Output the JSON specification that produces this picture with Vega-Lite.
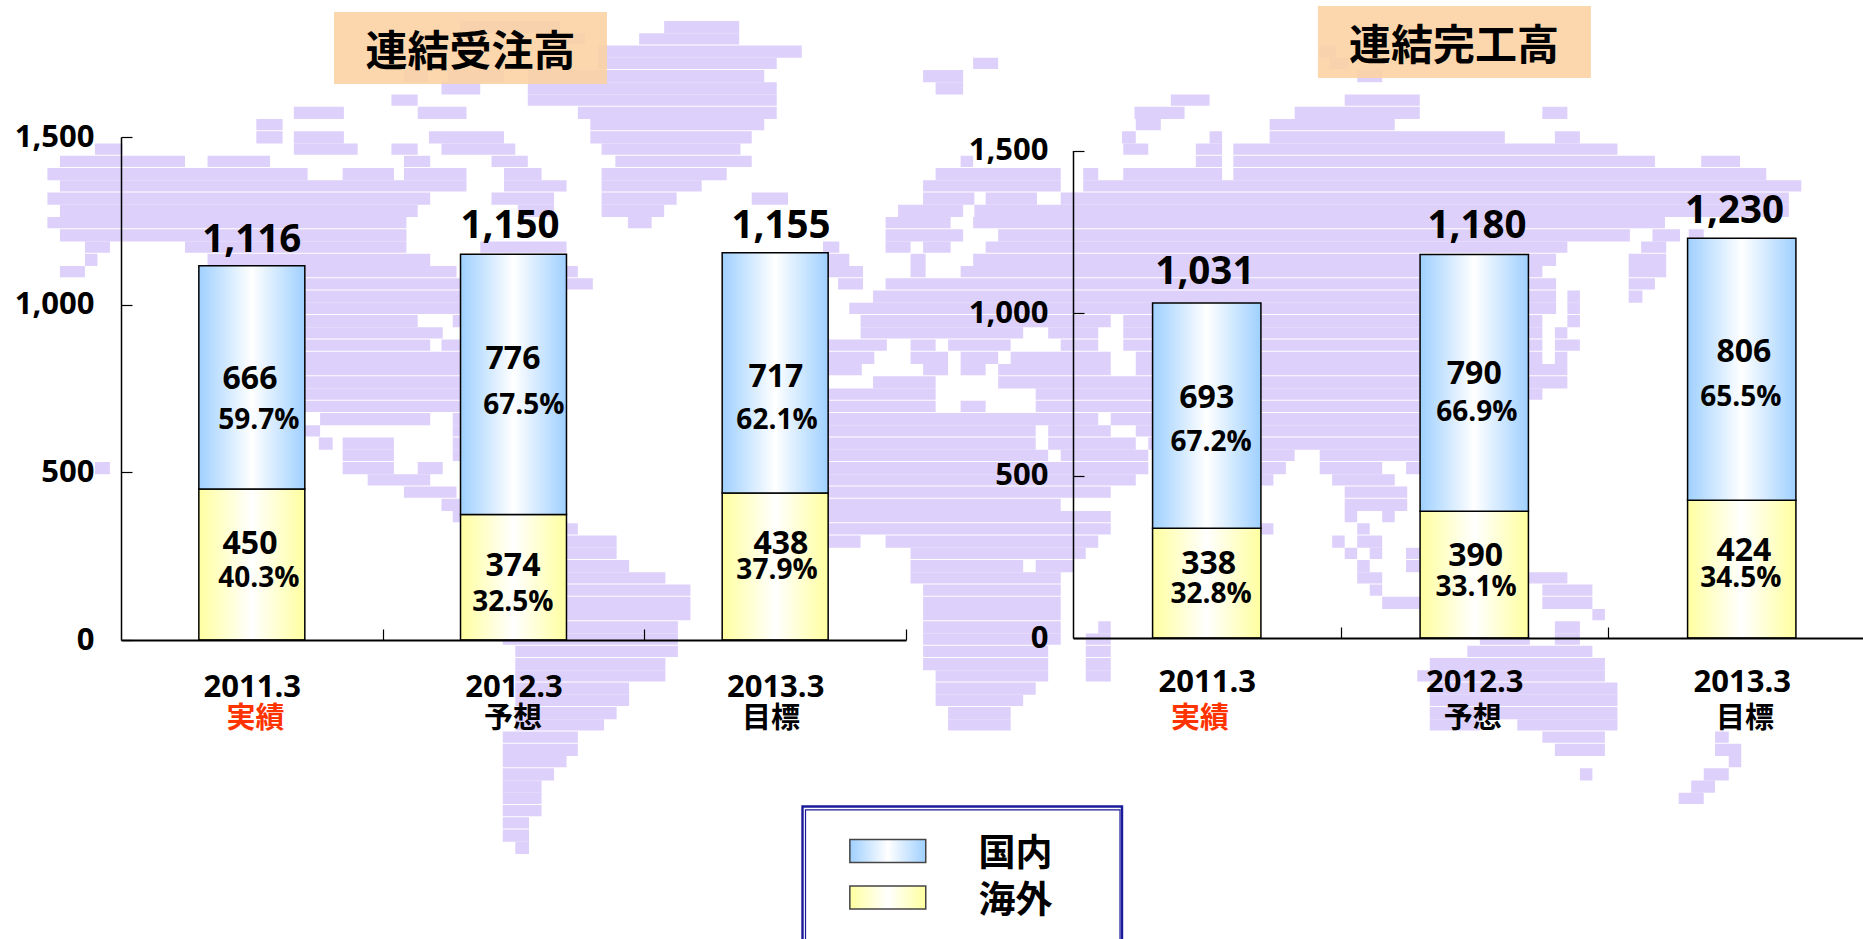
{"$schema":"https://vega.github.io/schema/vega-lite/v6.json","width":1863,"height":939,"padding":0,"autosize":"none","background":"white",
"datasets":{
"bars":[
{"panel":"受注","period":"2011.3","series":"海外","seq":1,"value":450},{"panel":"受注","period":"2011.3","series":"国内","seq":2,"value":666},
{"panel":"受注","period":"2012.3","series":"海外","seq":1,"value":374},{"panel":"受注","period":"2012.3","series":"国内","seq":2,"value":776},
{"panel":"受注","period":"2013.3","series":"海外","seq":1,"value":438},{"panel":"受注","period":"2013.3","series":"国内","seq":2,"value":717},
{"panel":"完工","period":"2011.3","series":"海外","seq":1,"value":338},{"panel":"完工","period":"2011.3","series":"国内","seq":2,"value":693},
{"panel":"完工","period":"2012.3","series":"海外","seq":1,"value":390},{"panel":"完工","period":"2012.3","series":"国内","seq":2,"value":790},
{"panel":"完工","period":"2013.3","series":"海外","seq":1,"value":424},{"panel":"完工","period":"2013.3","series":"国内","seq":2,"value":806}],
"labels":[
{"panel":"受注","kind":"total","text":"1,116","slot":0.5,"at":1196},{"panel":"受注","kind":"total","text":"1,150","slot":1.487,"at":1240},{"panel":"受注","kind":"total","text":"1,155","slot":2.522,"at":1240},
{"panel":"受注","kind":"value","text":"666","slot":0.493,"at":784},{"panel":"受注","kind":"value","text":"776","slot":1.498,"at":841},{"panel":"受注","kind":"value","text":"717","slot":2.503,"at":790},
{"panel":"受注","kind":"pct","text":"59.7%","slot":0.527,"at":659},{"panel":"受注","kind":"pct","text":"67.5%","slot":1.54,"at":703},{"panel":"受注","kind":"pct","text":"62.1%","slot":2.507,"at":659},
{"panel":"受注","kind":"value","text":"450","slot":0.493,"at":292},{"panel":"受注","kind":"value","text":"374","slot":1.498,"at":226},{"panel":"受注","kind":"value","text":"438","slot":2.522,"at":292},
{"panel":"受注","kind":"pct","text":"40.3%","slot":0.527,"at":186},{"panel":"受注","kind":"pct","text":"32.5%","slot":1.498,"at":116},{"panel":"受注","kind":"pct","text":"37.9%","slot":2.507,"at":209},
{"panel":"受注","kind":"note","text":"実績","slot":0.514,"at":-230,"tone":"actual"},{"panel":"受注","kind":"note","text":"予想","slot":1.498,"at":-230,"tone":"plan"},{"panel":"受注","kind":"note","text":"目標","slot":2.484,"at":-230,"tone":"plan"},
{"panel":"完工","kind":"total","text":"1,031","slot":0.493,"at":1132},{"panel":"完工","kind":"total","text":"1,180","slot":1.51,"at":1273},{"panel":"完工","kind":"total","text":"1,230","slot":2.473,"at":1320},
{"panel":"完工","kind":"value","text":"693","slot":0.5,"at":744},{"panel":"完工","kind":"value","text":"790","slot":1.5,"at":818},{"panel":"完工","kind":"value","text":"806","slot":2.508,"at":886},
{"panel":"完工","kind":"pct","text":"67.2%","slot":0.516,"at":606},{"panel":"完工","kind":"pct","text":"66.9%","slot":1.51,"at":698},{"panel":"完工","kind":"pct","text":"65.5%","slot":2.497,"at":744},
{"panel":"完工","kind":"value","text":"338","slot":0.507,"at":231},{"panel":"完工","kind":"value","text":"390","slot":1.505,"at":258},{"panel":"完工","kind":"value","text":"424","slot":2.508,"at":271},
{"panel":"完工","kind":"pct","text":"32.8%","slot":0.516,"at":138},{"panel":"完工","kind":"pct","text":"33.1%","slot":1.507,"at":160},{"panel":"完工","kind":"pct","text":"34.5%","slot":2.497,"at":185},
{"panel":"完工","kind":"note","text":"実績","slot":0.475,"at":-243,"tone":"actual"},{"panel":"完工","kind":"note","text":"予想","slot":1.494,"at":-243,"tone":"plan"},{"panel":"完工","kind":"note","text":"目標","slot":2.512,"at":-243,"tone":"plan"}],
"heads":[{"text":"連結受注高","from":22.91,"to":44.73,"top":-0.735,"bottom":5.14,"cx":33.83,"cy":2.6},{"text":"連結完工高","from":101.56,"to":123.38,"top":-1.22,"bottom":4.65,"cx":112.44,"cy":2.15}],
"frame":[{"line":"inner","from":60.6,"to":85.74,"top":64.4,"bottom":80},{"line":"outer","from":60.36,"to":85.9,"top":64.12,"bottom":80}],
"map":[
{"row":0,"end":1,"from":33,"to":41},{"row":0,"end":1,"from":49.3,"to":55.3},
{"row":1,"end":1.92,"from":41,"to":43},{"row":1,"end":1.92,"from":47.3,"to":55.3},
{"row":2,"end":3,"from":44,"to":60.3},{"row":2,"end":3,"from":101.7,"to":103},
{"row":3,"end":3.92,"from":44,"to":58.3},{"row":3,"end":3.92,"from":74,"to":76},{"row":3,"end":3.92,"from":102.5,"to":104},
{"row":4,"end":5,"from":28.5,"to":30.4},{"row":4,"end":5,"from":32,"to":36.5},{"row":4,"end":5,"from":38.4,"to":57.3},{"row":4,"end":5,"from":70,"to":73.2},{"row":4,"end":5,"from":104.7,"to":106.7},
{"row":5,"end":6,"from":31.5,"to":34.6},{"row":5,"end":6,"from":38.4,"to":58.3},{"row":5,"end":6,"from":71,"to":73.2},
{"row":6,"end":6.92,"from":27.5,"to":29.6},{"row":6,"end":6.92,"from":38.4,"to":58.3},{"row":6,"end":6.92,"from":89.8,"to":92.9},{"row":6,"end":6.92,"from":103.7,"to":109.7},
{"row":7,"end":8,"from":19.7,"to":23.7},{"row":7,"end":8,"from":29.6,"to":33.5},{"row":7,"end":8,"from":42.4,"to":58.3},{"row":7,"end":8,"from":86.9,"to":90.9},{"row":7,"end":8,"from":99.7,"to":109.7},{"row":7,"end":8,"from":119.5,"to":121.5},
{"row":8,"end":8.92,"from":16.7,"to":18.8},{"row":8,"end":8.92,"from":43.4,"to":57.3},{"row":8,"end":8.92,"from":87,"to":89},{"row":8,"end":8.92,"from":97.7,"to":107.7},
{"row":9,"end":10,"from":16.7,"to":18.8},{"row":9,"end":10,"from":19.7,"to":23.7},{"row":9,"end":10,"from":30.5,"to":36.5},{"row":9,"end":10,"from":43.4,"to":56.3},{"row":9,"end":10,"from":85.9,"to":87},{"row":9,"end":10,"from":92.9,"to":93.9},{"row":9,"end":10,"from":97.7,"to":116.5},{"row":9,"end":10,"from":120.5,"to":122.5},
{"row":10,"end":10.92,"from":3.8,"to":6},{"row":10,"end":10.92,"from":19.7,"to":24.8},{"row":10,"end":10.92,"from":27.5,"to":29.6},{"row":10,"end":10.92,"from":31.5,"to":37.4},{"row":10,"end":10.92,"from":44.3,"to":55.4},{"row":10,"end":10.92,"from":86,"to":88},{"row":10,"end":10.92,"from":91.8,"to":93.9},{"row":10,"end":10.92,"from":94.8,"to":125.5},
{"row":11,"end":11.92,"from":1,"to":11},{"row":11,"end":11.92,"from":12.8,"to":17.8},{"row":11,"end":11.92,"from":28.5,"to":30.6},{"row":11,"end":11.92,"from":35.5,"to":38.4},{"row":11,"end":11.92,"from":45.4,"to":56.3},{"row":11,"end":11.92,"from":73,"to":74},{"row":11,"end":11.92,"from":91.8,"to":93.9},{"row":11,"end":11.92,"from":94.8,"to":128.5},{"row":11,"end":11.92,"from":132.2,"to":135.3},
{"row":12,"end":13,"from":0,"to":20.8},{"row":12,"end":13,"from":23.6,"to":27.7},{"row":12,"end":13,"from":28.5,"to":33.5},{"row":12,"end":13,"from":36.5,"to":39.5},{"row":12,"end":13,"from":44.3,"to":54.3},{"row":12,"end":13,"from":71,"to":81},{"row":12,"end":13,"from":82.8,"to":84},{"row":12,"end":13,"from":86,"to":93.9},{"row":12,"end":13,"from":94.8,"to":137.4},
{"row":13,"end":13.92,"from":1,"to":33.5},{"row":13,"end":13.92,"from":36.5,"to":41.5},{"row":13,"end":13.92,"from":44.3,"to":52.3},{"row":13,"end":13.92,"from":70,"to":81},{"row":13,"end":13.92,"from":82.8,"to":140.2},
{"row":14,"end":15,"from":0,"to":30.6},{"row":14,"end":15,"from":35.5,"to":40.5},{"row":14,"end":15,"from":44.3,"to":50.3},{"row":14,"end":15,"from":56.3,"to":59.2},{"row":14,"end":15,"from":70,"to":74.1},{"row":14,"end":15,"from":75,"to":79.1},{"row":14,"end":15,"from":81,"to":139.2},
{"row":15,"end":16,"from":1,"to":29.6},{"row":15,"end":16,"from":37.6,"to":40.5},{"row":15,"end":16,"from":44.3,"to":49.3},{"row":15,"end":16,"from":68,"to":73.2},{"row":15,"end":16,"from":74.1,"to":139.2},
{"row":16,"end":16.92,"from":0,"to":28.7},{"row":16,"end":16.92,"from":46.4,"to":48.3},{"row":16,"end":16.92,"from":67,"to":72.2},{"row":16,"end":16.92,"from":74,"to":129.3},
{"row":17,"end":18,"from":1,"to":28.7},{"row":17,"end":18,"from":67,"to":73.2},{"row":17,"end":18,"from":76,"to":126.5},{"row":17,"end":18,"from":128.3,"to":130.5},{"row":17,"end":18,"from":131.2,"to":132.4},
{"row":18,"end":18.92,"from":3,"to":5},{"row":18,"end":18.92,"from":11,"to":28.7},{"row":18,"end":18.92,"from":34.6,"to":41.5},{"row":18,"end":18.92,"from":62,"to":63.3},{"row":18,"end":18.92,"from":67,"to":69},{"row":18,"end":18.92,"from":70,"to":72.2},{"row":18,"end":18.92,"from":75,"to":121.5},{"row":18,"end":18.92,"from":127.4,"to":129.4},
{"row":19,"end":20,"from":3,"to":4},{"row":19,"end":20,"from":12.8,"to":30.6},{"row":19,"end":20,"from":62.4,"to":64.1},{"row":19,"end":20,"from":69,"to":70.2},{"row":19,"end":20,"from":74,"to":120.6},{"row":19,"end":20,"from":126.4,"to":129.4},
{"row":20,"end":20.92,"from":1,"to":3},{"row":20,"end":20.92,"from":20.6,"to":32.7},{"row":20,"end":20.92,"from":41.5,"to":42.4},{"row":20,"end":20.92,"from":62.4,"to":65.2},{"row":20,"end":20.92,"from":69,"to":70.2},{"row":20,"end":20.92,"from":73,"to":119.5},{"row":20,"end":20.92,"from":126.4,"to":129.4},
{"row":21,"end":21.92,"from":20.6,"to":43.6},{"row":21,"end":21.92,"from":63.2,"to":65.2},{"row":21,"end":21.92,"from":67,"to":120.6},{"row":21,"end":21.92,"from":126.4,"to":128.5},
{"row":22,"end":23,"from":20.6,"to":33},{"row":22,"end":23,"from":66,"to":120.6},{"row":22,"end":23,"from":121.5,"to":122.5},{"row":22,"end":23,"from":126.4,"to":127.5},
{"row":23,"end":23.92,"from":20.6,"to":33},{"row":23,"end":23.92,"from":64.1,"to":120.6},{"row":23,"end":23.92,"from":121.5,"to":122.5},
{"row":24,"end":25,"from":20.6,"to":29.6},{"row":24,"end":25,"from":32.4,"to":33},{"row":24,"end":25,"from":65,"to":85},{"row":24,"end":25,"from":86,"to":119.5},{"row":24,"end":25,"from":121.5,"to":122.5},
{"row":25,"end":25.92,"from":20.6,"to":31.6},{"row":25,"end":25.92,"from":65,"to":78},{"row":25,"end":25.92,"from":80,"to":84},{"row":25,"end":25.92,"from":86,"to":119.5},{"row":25,"end":25.92,"from":120.5,"to":121.5},
{"row":26,"end":26.92,"from":20.6,"to":30.6},{"row":26,"end":26.92,"from":31.5,"to":33},{"row":26,"end":26.92,"from":62,"to":67.1},{"row":26,"end":26.92,"from":69,"to":71},{"row":26,"end":26.92,"from":72,"to":77},{"row":26,"end":26.92,"from":81,"to":84},{"row":26,"end":26.92,"from":86,"to":119.5},{"row":26,"end":26.92,"from":120.5,"to":122.5},
{"row":27,"end":28,"from":20.6,"to":33},{"row":27,"end":28,"from":62,"to":66.1},{"row":27,"end":28,"from":69,"to":72},{"row":27,"end":28,"from":73,"to":76},{"row":27,"end":28,"from":77,"to":85},{"row":27,"end":28,"from":87,"to":119.5},{"row":27,"end":28,"from":120.5,"to":121.5},
{"row":28,"end":28.92,"from":20.6,"to":33},{"row":28,"end":28.92,"from":62,"to":65.1},{"row":28,"end":28.92,"from":70,"to":72},{"row":28,"end":28.92,"from":73,"to":75},{"row":28,"end":28.92,"from":76,"to":85},{"row":28,"end":28.92,"from":87,"to":121.5},
{"row":29,"end":30,"from":20.6,"to":33},{"row":29,"end":30,"from":66,"to":71},{"row":29,"end":30,"from":76,"to":121.5},
{"row":30,"end":30.92,"from":20.6,"to":33},{"row":30,"end":30.92,"from":62,"to":71},{"row":30,"end":30.92,"from":79,"to":119.5},
{"row":31,"end":31.92,"from":20.6,"to":33},{"row":31,"end":31.92,"from":62,"to":71},{"row":31,"end":31.92,"from":73,"to":75},{"row":31,"end":31.92,"from":79,"to":110},
{"row":32,"end":33,"from":21.8,"to":30.6},{"row":32,"end":33,"from":32.4,"to":33},{"row":32,"end":33,"from":62,"to":84},{"row":32,"end":33,"from":85,"to":110},
{"row":33,"end":33.92,"from":20.6,"to":21.8},{"row":33,"end":33.92,"from":32.4,"to":33},{"row":33,"end":33.92,"from":62,"to":79},{"row":33,"end":33.92,"from":80,"to":85},{"row":33,"end":33.92,"from":87,"to":110},
{"row":34,"end":35,"from":21.7,"to":22.8},{"row":34,"end":35,"from":23.6,"to":27.7},{"row":34,"end":35,"from":32.4,"to":33},{"row":34,"end":35,"from":62,"to":79},{"row":34,"end":35,"from":80,"to":87},{"row":34,"end":35,"from":88,"to":110},
{"row":35,"end":35.92,"from":23.6,"to":27.7},{"row":35,"end":35.92,"from":32.4,"to":33},{"row":35,"end":35.92,"from":62,"to":80},{"row":35,"end":35.92,"from":81,"to":88},{"row":35,"end":35.92,"from":97,"to":99.7},{"row":35,"end":35.92,"from":101.7,"to":110},
{"row":36,"end":37,"from":3.8,"to":5},{"row":36,"end":37,"from":23.6,"to":27.7},{"row":36,"end":37,"from":29.6,"to":31.6},{"row":36,"end":37,"from":62,"to":88},{"row":36,"end":37,"from":97,"to":99},{"row":36,"end":37,"from":101.7,"to":106.7},{"row":36,"end":37,"from":108.6,"to":110},
{"row":37,"end":37.92,"from":25.6,"to":30.6},{"row":37,"end":37.92,"from":62,"to":87},{"row":37,"end":37.92,"from":97,"to":98},{"row":37,"end":37.92,"from":102.7,"to":107.7},
{"row":38,"end":38.92,"from":28.5,"to":32.7},{"row":38,"end":38.92,"from":62,"to":85},{"row":38,"end":38.92,"from":103.7,"to":108.7},
{"row":39,"end":40,"from":31.5,"to":33},{"row":39,"end":40,"from":62,"to":81},{"row":39,"end":40,"from":103.7,"to":108.7},
{"row":40,"end":40.92,"from":32.4,"to":33},{"row":40,"end":40.92,"from":62,"to":85},{"row":40,"end":40.92,"from":103.7,"to":104.7},{"row":40,"end":40.92,"from":106.7,"to":107.7},
{"row":41,"end":41.92,"from":41.5,"to":42.4},{"row":41,"end":41.92,"from":62,"to":85},{"row":41,"end":41.92,"from":97,"to":98},{"row":41,"end":41.92,"from":104.7,"to":105.7},
{"row":42,"end":43,"from":41.5,"to":45.5},{"row":42,"end":43,"from":62,"to":65},{"row":42,"end":43,"from":67,"to":84},{"row":42,"end":43,"from":102.7,"to":103.7},{"row":42,"end":43,"from":104.7,"to":106.7},
{"row":43,"end":43.92,"from":41.5,"to":45.5},{"row":43,"end":43.92,"from":69,"to":83},{"row":43,"end":43.92,"from":103.7,"to":104.7},{"row":43,"end":43.92,"from":105.7,"to":106.7},{"row":43,"end":43.92,"from":108.6,"to":110},
{"row":44,"end":45,"from":41.5,"to":46.5},{"row":44,"end":45,"from":69,"to":78},{"row":44,"end":45,"from":79,"to":82},{"row":44,"end":45,"from":104.7,"to":105.7},{"row":44,"end":45,"from":108.6,"to":110},
{"row":45,"end":45.92,"from":41.5,"to":49.4},{"row":45,"end":45.92,"from":69,"to":81},{"row":45,"end":45.92,"from":104.7,"to":106.7},{"row":45,"end":45.92,"from":118.3,"to":121.5},
{"row":46,"end":46.92,"from":41.5,"to":51.4},{"row":46,"end":46.92,"from":70,"to":81},{"row":46,"end":46.92,"from":105.7,"to":106.7},{"row":46,"end":46.92,"from":119.5,"to":123.5},
{"row":47,"end":48,"from":41.5,"to":51.4},{"row":47,"end":48,"from":70,"to":81},{"row":47,"end":48,"from":106.7,"to":110},{"row":47,"end":48,"from":119.5,"to":123.5},
{"row":48,"end":48.92,"from":41.5,"to":51.4},{"row":48,"end":48.92,"from":70,"to":81},{"row":48,"end":48.92,"from":123.5,"to":124.5},
{"row":49,"end":50,"from":41.5,"to":50.4},{"row":49,"end":50,"from":70,"to":81},{"row":49,"end":50,"from":84,"to":85},{"row":49,"end":50,"from":120.5,"to":122.5},
{"row":50,"end":50.92,"from":36.4,"to":50.4},{"row":50,"end":50.92,"from":70,"to":81},{"row":50,"end":50.92,"from":83,"to":85},{"row":50,"end":50.92,"from":114.5,"to":118.5},{"row":50,"end":50.92,"from":120.5,"to":122.5},
{"row":51,"end":51.92,"from":37.4,"to":50.4},{"row":51,"end":51.92,"from":70,"to":80},{"row":51,"end":51.92,"from":83,"to":85},{"row":51,"end":51.92,"from":113.5,"to":123.5},
{"row":52,"end":53,"from":37.4,"to":49.4},{"row":52,"end":53,"from":70,"to":80},{"row":52,"end":53,"from":83,"to":85},{"row":52,"end":53,"from":110.5,"to":124.5},
{"row":53,"end":53.92,"from":37.4,"to":49.4},{"row":53,"end":53.92,"from":71,"to":80},{"row":53,"end":53.92,"from":83,"to":85},{"row":53,"end":53.92,"from":109.5,"to":124.5},
{"row":54,"end":55,"from":37.4,"to":46.5},{"row":54,"end":55,"from":71,"to":79},{"row":54,"end":55,"from":110.5,"to":125.5},
{"row":55,"end":55.92,"from":37.4,"to":46.5},{"row":55,"end":55.92,"from":71,"to":78},{"row":55,"end":55.92,"from":110.5,"to":125.5},
{"row":56,"end":57,"from":37.4,"to":45.5},{"row":56,"end":57,"from":72,"to":77},{"row":56,"end":57,"from":110.5,"to":125.5},
{"row":57,"end":57.92,"from":37.4,"to":44.5},{"row":57,"end":57.92,"from":72,"to":77},{"row":57,"end":57.92,"from":110.5,"to":114.5},{"row":57,"end":57.92,"from":117.5,"to":125.5},
{"row":58,"end":58.92,"from":36.4,"to":42.4},{"row":58,"end":58.92,"from":119.5,"to":124.5},{"row":58,"end":58.92,"from":133.3,"to":134.4},
{"row":59,"end":60,"from":36.4,"to":42.4},{"row":59,"end":60,"from":120.5,"to":124.5},{"row":59,"end":60,"from":133.3,"to":135.4},
{"row":60,"end":60.92,"from":36.4,"to":41.5},{"row":60,"end":60.92,"from":134.4,"to":135.4},
{"row":61,"end":62,"from":36.4,"to":40.5},{"row":61,"end":62,"from":122.5,"to":123.5},{"row":61,"end":62,"from":132.4,"to":134.4},
{"row":62,"end":63,"from":36.4,"to":39.5},{"row":62,"end":63,"from":131.4,"to":133.3},
{"row":63,"end":63.92,"from":36.4,"to":39.5},{"row":63,"end":63.92,"from":130.4,"to":132.4},
{"row":64,"end":64.92,"from":36.4,"to":39.5},
{"row":65,"end":65.92,"from":36.4,"to":38.5},
{"row":66,"end":67,"from":36.4,"to":38.5},
{"row":67,"end":68,"from":37.4,"to":38.5}]
},
"layer":[
{"data":{"name":"map"},"mark":{"type":"rect","fill":"#ddd0fb"},
 "encoding":{"x":{"field":"from","type":"quantitative","axis":null,"scale":{"domain":[0,149],"range":[47.4,1911.4],"nice":false,"zero":false}},"x2":{"field":"to"},
 "y":{"field":"row","type":"quantitative","axis":null,"scale":{"domain":[0,76],"range":[21,952],"nice":false,"zero":false}},"y2":{"field":"end"}}},
{"data":{"name":"heads"},"mark":{"type":"rect","fill":"#fcd2a2","opacity":0.88},
 "encoding":{"x":{"field":"from","type":"quantitative","axis":null,"scale":{"domain":[0,149],"range":[47.4,1911.4],"nice":false,"zero":false}},"x2":{"field":"to"},
 "y":{"field":"top","type":"quantitative","axis":null,"scale":{"domain":[0,76],"range":[21,952],"nice":false,"zero":false}},"y2":{"field":"bottom"}}},
{"data":{"name":"heads"},"mark":{"type":"text","font":"Noto Sans CJK JP","fontWeight":"bold","fontSize":42,"color":"#000","baseline":"middle","align":"center"},
 "encoding":{"x":{"field":"cx","type":"quantitative","axis":null,"scale":{"domain":[0,149],"range":[47.4,1911.4],"nice":false,"zero":false}},
 "y":{"field":"cy","type":"quantitative","axis":null,"scale":{"domain":[0,76],"range":[21,952],"nice":false,"zero":false}},"text":{"field":"text"}}},
{"data":{"name":"frame"},"transform":[{"filter":"datum.line==='inner'"}],"mark":{"type":"rect","fill":null,"fillOpacity":0,"stroke":"#1a1a9a","strokeWidth":1.2},
 "encoding":{"x":{"field":"from","type":"quantitative","axis":null,"scale":{"domain":[0,149],"range":[47.4,1911.4],"nice":false,"zero":false}},"x2":{"field":"to"},
 "y":{"field":"top","type":"quantitative","axis":null,"scale":{"domain":[0,76],"range":[21,952],"nice":false,"zero":false}},"y2":{"field":"bottom"}}},
{"data":{"name":"frame"},"transform":[{"filter":"datum.line==='outer'"}],"mark":{"type":"rect","fill":null,"fillOpacity":0,"stroke":"#1a1a9a","strokeWidth":2.4},
 "encoding":{"x":{"field":"from","type":"quantitative","axis":null,"scale":{"domain":[0,149],"range":[47.4,1911.4],"nice":false,"zero":false}},"x2":{"field":"to"},
 "y":{"field":"top","type":"quantitative","axis":null,"scale":{"domain":[0,76],"range":[21,952],"nice":false,"zero":false}},"y2":{"field":"bottom"}}},
{"data":{"name":"bars"},"transform":[{"filter":"datum.panel==='受注'"}],"mark":{"type":"bar","stroke":"#000","strokeWidth":1.5},
 "encoding":{"x":{"field":"period","type":"nominal","scale":{"type":"band","domain":["2011.3","2012.3","2013.3"],"range":[121,906],"paddingInner":0.595,"paddingOuter":0.2975},
   "axis":{"orient":"bottom","offset":-299,"title":null,"labelAngle":0,"bandPosition":1,"tickOffset":77.8,"labelOffset":-77.8,"tickSize":-11,"tickColor":"#000","tickWidth":1.2,"domainColor":"#000","domainWidth":2,"labelPadding":43,"labelFont":"Open Sans","labelFontWeight":"bold","labelFontSize":31,"labelColor":"#000","zindex":1}},
  "y":{"field":"value","type":"quantitative","stack":"zero","scale":{"domain":[0,1500],"range":[640,137],"nice":false},
   "axis":{"orient":"left","offset":-121,"title":null,"values":[0,500,1000,1500],"format":",.0f","grid":false,"tickSize":-11,"tickColor":"#000","tickWidth":1.2,"domainColor":"#000","domainWidth":1.5,"labelPadding":38,"labelFont":"Open Sans","labelFontWeight":"bold","labelFontSize":31,"labelColor":"#000","zindex":1}},
  "order":{"field":"seq","type":"ordinal"},
  "color":{"field":"series","type":"nominal","scale":{"domain":["国内","海外"],"range":[{"expr":"{gradient:'linear',x1:0,y1:0,x2:1,y2:0,stops:[{offset:0,color:'#9fd0ff'},{offset:0.5,color:'#ffffff'},{offset:1,color:'#9fd0ff'}]}"},{"expr":"{gradient:'linear',x1:0,y1:0,x2:1,y2:0,stops:[{offset:0,color:'#ffffa0'},{offset:0.5,color:'#ffffff'},{offset:1,color:'#ffffa0'}]}"}]},
   "legend":{"orient":"none","legendX":802.5,"legendY":806.5,"title":null,"padding":30,"rowPadding":8.5,"symbolType":"M-0.1,-1.35H6.5V0.65H-0.1Z","symbolSize":529,"symbolStrokeColor":"#444","symbolStrokeWidth":1.5,"labelFont":"Noto Sans CJK JP","labelFontWeight":"bold","labelFontSize":37,"labelColor":"#000","labelOffset":109}}}},
{"data":{"name":"bars"},"transform":[{"filter":"datum.panel==='完工'"}],"mark":{"type":"bar","stroke":"#000","strokeWidth":1.5},
 "encoding":{"x":{"field":"period","type":"nominal","scale":{"type":"band","domain":["2011.3","2012.3","2013.3"],"range":[1073,1875.5],"paddingInner":0.595,"paddingOuter":0.2975},
   "axis":{"orient":"bottom","offset":-301,"title":null,"labelAngle":0,"bandPosition":1,"tickOffset":79.6,"labelOffset":-79.6,"tickSize":-11,"tickColor":"#000","tickWidth":1.2,"domainColor":"#000","domainWidth":2,"labelPadding":40,"labelFont":"Open Sans","labelFontWeight":"bold","labelFontSize":31,"labelColor":"#000","zindex":1}},
  "y":{"field":"value","type":"quantitative","stack":"zero","scale":{"domain":[0,1500],"range":[638,150.5],"nice":false},
   "axis":{"orient":"left","offset":-1073,"title":null,"values":[0,500,1000,1500],"format":",.0f","grid":false,"tickSize":-11,"tickColor":"#000","tickWidth":1.2,"domainColor":"#000","domainWidth":1.5,"labelPadding":36,"labelFont":"Open Sans","labelFontWeight":"bold","labelFontSize":31,"labelColor":"#000","zindex":1}},
  "order":{"field":"seq","type":"ordinal"},
  "color":{"field":"series","type":"nominal","legend":null}}},
{"data":{"name":"labels"},"transform":[{"filter":"datum.panel==='受注'"}],
 "encoding":{"x":{"field":"slot","type":"quantitative","axis":null,"scale":{"domain":[0,3],"range":[121,906],"nice":false,"zero":false}},
  "y":{"field":"at","type":"quantitative","axis":null,"scale":{"domain":[0,1500],"range":[640,137],"nice":false,"zero":false}},"text":{"field":"text"}},
 "layer":[
  {"transform":[{"filter":"datum.kind==='total'"}],"mark":{"type":"text","font":"Open Sans","fontWeight":"bold","fontSize":38.5,"color":"#000","dy":1.5}},
  {"transform":[{"filter":"datum.kind==='value'"}],"mark":{"type":"text","font":"Open Sans","fontWeight":"bold","fontSize":32,"color":"#000","dy":1.5}},
  {"transform":[{"filter":"datum.kind==='pct'"}],"mark":{"type":"text","font":"Open Sans","fontWeight":"bold","fontSize":28,"color":"#000","dy":1.5}},
  {"transform":[{"filter":"datum.kind==='note'&&datum.tone==='actual'"}],"mark":{"type":"text","font":"Noto Sans CJK JP","fontWeight":"bold","fontSize":29,"color":"#ff3300","dy":2}},
  {"transform":[{"filter":"datum.kind==='note'&&datum.tone==='plan'"}],"mark":{"type":"text","font":"Noto Sans CJK JP","fontWeight":"bold","fontSize":29,"color":"#000","dy":2}}]},
{"data":{"name":"labels"},"transform":[{"filter":"datum.panel==='完工'"}],
 "encoding":{"x":{"field":"slot","type":"quantitative","axis":null,"scale":{"domain":[0,3],"range":[1073,1875.5],"nice":false,"zero":false}},
  "y":{"field":"at","type":"quantitative","axis":null,"scale":{"domain":[0,1500],"range":[638,150.5],"nice":false,"zero":false}},"text":{"field":"text"}},
 "layer":[
  {"transform":[{"filter":"datum.kind==='total'"}],"mark":{"type":"text","font":"Open Sans","fontWeight":"bold","fontSize":38.5,"color":"#000","dy":1.5}},
  {"transform":[{"filter":"datum.kind==='value'"}],"mark":{"type":"text","font":"Open Sans","fontWeight":"bold","fontSize":32,"color":"#000","dy":1.5}},
  {"transform":[{"filter":"datum.kind==='pct'"}],"mark":{"type":"text","font":"Open Sans","fontWeight":"bold","fontSize":28,"color":"#000","dy":1.5}},
  {"transform":[{"filter":"datum.kind==='note'&&datum.tone==='actual'"}],"mark":{"type":"text","font":"Noto Sans CJK JP","fontWeight":"bold","fontSize":29,"color":"#ff3300","dy":2}},
  {"transform":[{"filter":"datum.kind==='note'&&datum.tone==='plan'"}],"mark":{"type":"text","font":"Noto Sans CJK JP","fontWeight":"bold","fontSize":29,"color":"#000","dy":2}}]}
],
"resolve":{"scale":{"x":"independent","y":"independent"},"axis":{"x":"independent","y":"independent"}},
"config":{"view":{"stroke":null}}
}
